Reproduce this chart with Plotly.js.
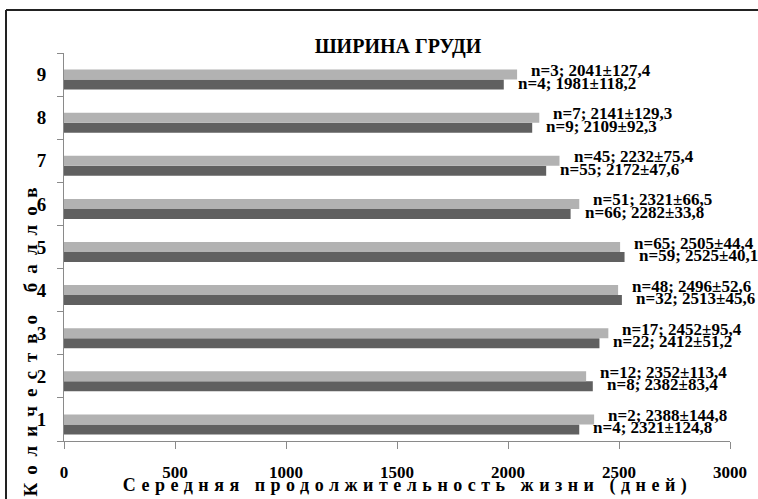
<!DOCTYPE html>
<html><head><meta charset="utf-8">
<script src="https://cdn.plot.ly/plotly-3.0.1.min.js"></script>
<style>
html,body{margin:0;padding:0;background:#fff;}
#chart{width:758px;height:499px;}
.annotation[data-index="18"] text{letter-spacing:9px;}
.annotation[data-index="19"] text{letter-spacing:5.5px;}
</style></head><body><div id="chart"></div>
<script>
const categories = ['1','2','3','4','5','6','7','8','9'];
const lightN    = [2, 12, 17, 48, 65, 51, 45, 7, 3];
const lightMean = [2388, 2352, 2452, 2496, 2505, 2321, 2232, 2141, 2041];
const lightSE   = [144.8, 113.4, 95.4, 52.6, 44.4, 66.5, 75.4, 129.3, 127.4];
const darkN     = [4, 8, 22, 32, 59, 66, 55, 9, 4];
const darkMean  = [2321, 2382, 2412, 2513, 2525, 2282, 2172, 2109, 1981];
const darkSE    = [124.8, 83.4, 51.2, 45.6, 40.1, 33.8, 47.6, 92.3, 118.2];
const xTickVals = [0, 500, 1000, 1500, 2000, 2500, 3000];
const chartTitle = 'ШИРИНА ГРУДИ';
const xTitle = 'Середняя продолжительность жизни (дней)';
const yTitle = 'Количество баллов';

const SERIF = "'Liberation Serif', 'Times New Roman', serif";
const W = 758, H = 499;
const M = {l: 64, r: 28, t: 53, b: 58};
const PW = W - M.l - M.r, PH = H - M.t - M.b;
const px2x = p => (p - M.l) / PW;
const py2y = p => (H - M.b - p) / PH;

function fmt(n, m, se) {
  return 'n=' + n + '; ' + m + '±' + String(se).replace('.', ',');
}

const labelFont = {family: SERIF, size: 17, color: '#000', weight: 700};
const annotations = [];
categories.forEach((c, i) => {
  // on a category axis the annotation position is the category index
  annotations.push({x: lightMean[i], y: i, xref: 'x', yref: 'y', showarrow: false,
    text: fmt(lightN[i], lightMean[i], lightSE[i]), xanchor: 'left', yanchor: 'middle',
    xshift: 12, yshift: 4, font: labelFont});
  annotations.push({x: darkMean[i], y: i, xref: 'x', yref: 'y', showarrow: false,
    text: fmt(darkN[i], darkMean[i], darkSE[i]), xanchor: 'left', yanchor: 'middle',
    xshift: 12, yshift: -8.5, font: labelFont});
});
// axis titles (index 18: y, index 19: x)
annotations.push({text: yTitle, xref: 'paper', yref: 'paper', x: px2x(30), y: py2y(338),
  xanchor: 'center', yanchor: 'middle', textangle: -90, showarrow: false,
  font: {family: SERIF, size: 19, color: '#000', weight: 700}});
annotations.push({text: xTitle, xref: 'paper', yref: 'paper', x: px2x(407), y: py2y(485),
  xanchor: 'center', yanchor: 'middle', showarrow: false,
  font: {family: SERIF, size: 18, color: '#000', weight: 700}});

const traces = [
  {type: 'bar', orientation: 'h', name: 'dark', y: categories, x: darkMean,
   offset: -0.348, width: 0.232, marker: {color: '#606060'}, hoverinfo: 'x'},
  {type: 'bar', orientation: 'h', name: 'light', y: categories, x: lightMean,
   offset: -0.116, width: 0.232, marker: {color: '#b2b2b2'}, hoverinfo: 'x'}
];

const layout = {
  width: W, height: H, margin: M, showlegend: false, barmode: 'overlay',
  paper_bgcolor: '#fff', plot_bgcolor: '#fff',
  title: {text: chartTitle, x: 398 / W, xanchor: 'center', y: 1 - 46 / H, yanchor: 'middle',
    font: {family: SERIF, size: 20, color: '#000', weight: 700}},
  xaxis: {range: [0, 3000], tickvals: xTickVals, showgrid: false, zeroline: false,
    showline: true, linecolor: '#8a8a8a', linewidth: 1, ticks: 'outside', ticklen: 7,
    tickcolor: '#8a8a8a', ticklabelstandoff: 9,
    tickfont: {family: SERIF, size: 17, color: '#000', weight: 700}},
  yaxis: {type: 'category', categoryorder: 'array', categoryarray: categories,
    range: [-0.5, 8.5], tickson: 'boundaries', showgrid: false, zeroline: false,
    showline: true, linecolor: '#8a8a8a', linewidth: 1, ticks: 'outside', ticklen: 6,
    tickcolor: '#8a8a8a', ticklabelstandoff: 13,
    tickfont: {family: SERIF, size: 19, color: '#000', weight: 700}},
  annotations: annotations,
  shapes: [
    {type: 'line', xref: 'paper', yref: 'paper', x0: px2x(6), x1: px2x(W + 5), y0: py2y(10), y1: py2y(10),
     line: {color: '#222', width: 2}},
    {type: 'line', xref: 'paper', yref: 'paper', x0: px2x(6), x1: px2x(6), y0: py2y(10), y1: py2y(H + 5),
     line: {color: '#222', width: 2}}
  ]
};

Plotly.newPlot('chart', traces, layout, {displayModeBar: false, staticPlot: true});
</script></body></html>
